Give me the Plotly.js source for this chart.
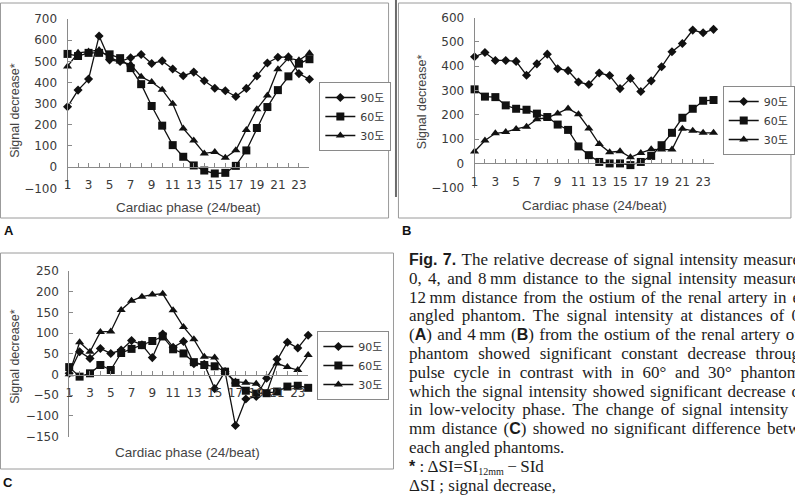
<!DOCTYPE html>
<html>
<head>
<meta charset="utf-8">
<script src="https://cdn.plot.ly/plotly-3.0.1.min.js"></script>
<style>
  html, body { margin: 0; padding: 0; background: #fff; width: 795px; height: 499px; overflow: hidden; }
  #plot { position: absolute; left: 0; top: 0; width: 795px; height: 499px; }
  #cap { position: absolute; left: 409px; top: 251px; width: 391px;
         font-family: "Liberation Serif", "Times New Roman", serif; font-size: 17px;
         line-height: 18.8px; color: #1c1c1c; }
  #cap .row { height: 18.8px; white-space: nowrap; }
  #cap .j { display: flex; justify-content: space-between; }
  #cap b { font-family: "Liberation Sans", Arial, sans-serif; font-weight: bold; font-size: 16px; }
  #cap .sub { font-size: 10px; position: relative; top: 3px; line-height: 0; }
</style>
</head>
<body>
<div id="plot"></div>
<div id="cap"></div>
<script>
// Cardiac phases (24 per beat) and the tick labels shown on the phase axis
const phases = [1, 2, 3, 4, 5, 6, 7, 8, 9, 10, 11, 12, 13, 14, 15, 16, 17, 18, 19, 20, 21, 22, 23, 24];
const phaseLabels = ['1', '', '3', '', '5', '', '7', '', '9', '', '11', '', '13', '', '15', '', '17', '', '19', '', '21', '', '23', ''];
const angleNames = ['90도', '60도', '30도'];

// Panel A: 0 mm from the ostium
const a90 = [285, 364, 416, 620, 507, 499, 517, 532, 490, 502, 464, 432, 449, 408, 373, 361, 334, 372, 431, 492, 519, 521, 442, 415];
const a60 = [535, 525, 540, 540, 533, 515, 468, 392, 289, 196, 104, 49, 8, -16, -30, -27, 6, 79, 185, 284, 364, 429, 489, 510];
const a30 = [476, 540, 546, 554, 518, 499, 486, 427, 402, 366, 299, 183, 126, 65, 72, 44, 80, 176, 274, 338, 462, 515, 505, 538];

// Panel B: 4 mm from the ostium
const b90 = [439, 457, 424, 424, 420, 363, 410, 450, 390, 382, 335, 325, 372, 362, 308, 350, 296, 340, 398, 460, 494, 549, 538, 552];
const b60 = [305, 275, 273, 239, 225, 221, 205, 191, 160, 138, 70, 34, 6, 0, 0, -7, 6, 31, 75, 126, 188, 225, 258, 261];
const b30 = [49, 94, 124, 129, 142, 151, 182, 188, 206, 226, 202, 144, 80, 46, 50, 25, 43, 58, 57, 57, 143, 134, 126, 126];

// Panel C: 8 mm from the ostium
const c90 = [3, 55, 39, 63, 51, 59, 82, 72, 41, 98, 66, 80, 26, 25, -34, 7, -123, -59, -53, -9, 37, 78, 64, 95];
const c60 = [18, -5, 3, 23, 11, 52, 62, 71, 81, 92, 61, 51, 30, 23, 20, 7, -20, -39, -46, -45, -41, -29, -27, -32];
const c30 = [1, 78, 55, 103, 104, 156, 178, 188, 193, 195, 155, 115, 85, 43, 41, 6, -17, -20, -22, -45, 27, 18, 11, 47];

// Figure caption, one entry per printed line (justified lines first)
const captionJustified = [
  '<b>Fig.</b> <b>7.</b> The relative decrease of signal intensity measure',
  '0, 4, and 8&thinsp;mm distance to the signal intensity measure',
  '12&thinsp;mm distance from the ostium of the renal artery in e',
  'angled phantom. The signal intensity at distances of 0',
  '(<b>A</b>) and 4&thinsp;mm (<b>B</b>) from the ostium of the renal artery of',
  'phantom showed significant constant decrease throug',
  'pulse cycle in contrast with in 60° and 30° phantom',
  'which the signal intensity showed significant decrease o',
  'in low-velocity phase. The change of signal intensity i',
  'mm distance (<b>C</b>) showed no significant difference betw'
];
const captionPlain = [
  'each angled phantoms.',
  '<b>*</b> : ΔSI=SI<span class="sub">12mm</span>&thinsp;−&thinsp;SId',
  'ΔSI ; signal decrease,'
];

const cap = document.getElementById('cap');
captionJustified.forEach(line => {
  const row = document.createElement('div');
  row.className = 'row j';
  line.split(' ').forEach(word => {
    const w = document.createElement('span');
    w.innerHTML = word;
    row.appendChild(w);
  });
  cap.appendChild(row);
});
captionPlain.forEach(line => {
  const row = document.createElement('div');
  row.className = 'row';
  row.innerHTML = line;
  cap.appendChild(row);
});

const W = 795, H = 499;
const fx = p => p / W;          // pixel column -> paper x
const fy = p => 1 - p / H;      // pixel row -> paper y

const symbols = ['diamond', 'square', 'triangle-up'];
const sizes = [7, 8, 8];

function makeTraces(sets, xa, ya, legendId) {
  return sets.map((vals, i) => ({
    type: 'scatter', mode: 'lines+markers',
    x: phases, y: vals, name: angleNames[i],
    xaxis: xa, yaxis: ya, legend: legendId,
    cliponaxis: false,
    line: { color: '#111', width: 1.3 },
    marker: { symbol: symbols[i], size: sizes[i], color: '#111' }
  }));
}

const data = [
  ...makeTraces([a90, a60, a30], 'x', 'y', 'legend'),
  ...makeTraces([b90, b60, b30], 'x2', 'y2', 'legend2'),
  ...makeTraces([c90, c60, c30], 'x3', 'y3', 'legend3')
];

const tickFont = { family: 'DejaVu Sans, sans-serif', size: 12, color: '#3a3a3a' };
const axisLine = { showline: true, linecolor: '#8a8a8a', linewidth: 1, showgrid: false, zeroline: false,
                   ticks: 'inside', ticklen: 4, tickcolor: '#8a8a8a', tickfont: tickFont, fixedrange: true };

function xAxis(x0, x1, yPos) {
  return Object.assign({}, axisLine, {
    domain: [fx(x0), fx(x1)], range: [1, 24], anchor: 'free', position: fy(yPos),
    tickmode: 'array', tickvals: phases, ticktext: phaseLabels, ticklabelstandoff: 7
  });
}
function yAxis(top, bottom, lo, hi, step, anchor) {
  return Object.assign({}, axisLine, {
    domain: [fy(bottom), fy(top)], range: [lo, hi], anchor: anchor,
    tick0: 0, dtick: step, ticklabelstandoff: 7
  });
}

function legendAt(left, top) {
  return { x: fx(left), y: fy(top), xanchor: 'left', yanchor: 'top',
           bgcolor: '#fff', bordercolor: '#8a8a8a', borderwidth: 1, tracegroupgap: 0,
           font: { family: 'DejaVu Sans, Noto Sans CJK KR, sans-serif', size: 11, color: '#3a3a3a' } };
}

const titleFont = { family: 'Liberation Sans, Arial, sans-serif', size: 13.5, color: '#444' };
const yTitleFont = { family: 'Liberation Sans, Arial, sans-serif', size: 12.5, color: '#444' };
const tag = { family: 'Liberation Sans, Arial, sans-serif', size: 13, color: '#111' };

function note(text, x, y, font, angle) {
  return { text: text, xref: 'paper', yref: 'paper', x: fx(x), y: fy(y),
           xanchor: 'center', yanchor: 'middle', showarrow: false, font: font, textangle: angle || 0 };
}

function box(x0, y0, x1, y1, color, width) {
  return { type: 'rect', xref: 'paper', yref: 'paper', x0: fx(x0), x1: fx(x1), y0: fy(y1), y1: fy(y0),
           line: { color: color, width: width }, fillcolor: 'rgba(0,0,0,0)', layer: 'below' };
}

const layout = {
  width: W, height: H,
  margin: { l: 0, r: 0, t: 0, b: 0 },
  paper_bgcolor: '#fff', plot_bgcolor: 'rgba(0,0,0,0)',
  showlegend: true,
  xaxis: xAxis(68.3, 313, 167),
  yaxis: yAxis(19, 188.3, -100, 700, 100, 'x'),
  xaxis2: xAxis(480, 721.7, 163.4),
  yaxis2: yAxis(17.7, 187.7, -100, 600, 100, 'x2'),
  xaxis3: xAxis(70, 311.7, 374.6),
  yaxis3: yAxis(271, 436.7, -150, 250, 50, 'x3'),
  legend: legendAt(323, 82),
  legend2: legendAt(731, 86),
  legend3: legendAt(321, 331),
  annotations: [
    note('Cardiac phase (24/beat)', 191, 207, titleFont),
    note('Signal decrease*', 15, 110, yTitleFont, -90),
    note('Cardiac phase (24/beat)', 601, 206, titleFont),
    note('Signal decrease*', 427, 102, yTitleFont, -90),
    note('Cardiac phase (24/beat)', 190, 452, titleFont),
    note('Signal decrease*', 15, 356, yTitleFont, -90),
    note('<b>A</b>', 9, 230, tag),
    note('<b>B</b>', 411, 230, tag),
    note('<b>C</b>', 8, 482, tag)
  ],
  shapes: [
    box(0.5, 3, 393, 218, '#9a9a9a', 1),
    box(403, 3, 800, 218, '#9a9a9a', 1),
    box(0.5, 253, 398, 469, '#9a9a9a', 1),
    { type: 'line', xref: 'paper', yref: 'paper', x0: fx(400.5), x1: fx(400.5), y0: fy(0), y1: fy(197),
      line: { color: '#6a6a6a', width: 2 }, layer: 'below' }
  ]
};

Plotly.newPlot('plot', data, layout, { displayModeBar: false, staticPlot: true });
</script>
</body>
</html>
